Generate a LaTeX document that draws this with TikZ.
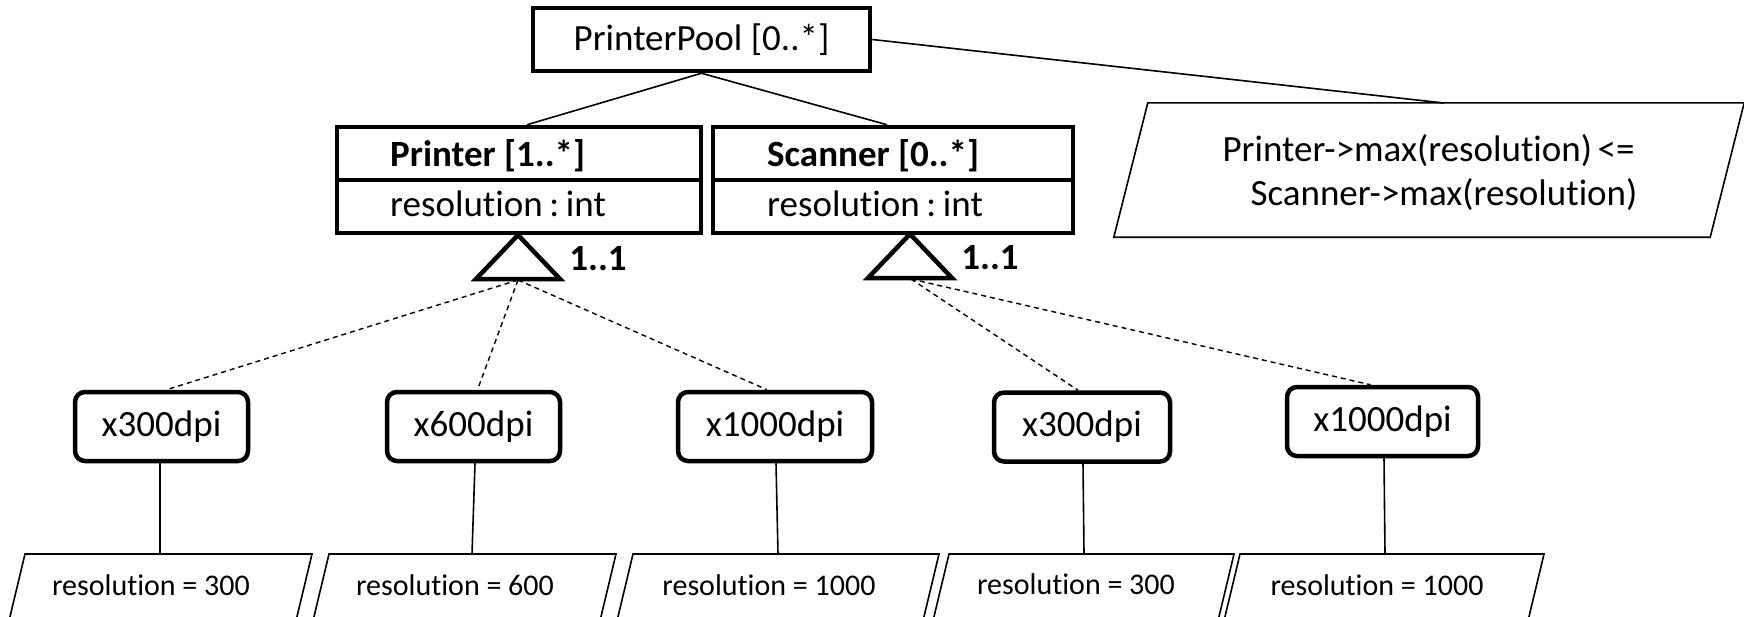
\documentclass[tikz,border=0pt]{standalone}
\usepackage{fontspec}
\setmainfont[Ligatures=NoCommon]{Carlito}
\begin{document}
\begin{tikzpicture}[x=1pt,y=-1pt,
  bold line/.style={line width=4.5pt},
  thin line/.style={line width=1.6pt},
  dash line/.style={line width=1.4pt, dash pattern=on 5pt off 4pt},
  big/.style={font=\fontsize{37}{44}\selectfont},
  bigbold/.style={font=\fontsize{37}{44}\selectfont\bfseries},
  small/.style={font=\fontsize{30}{36}\selectfont},
  classbox/.style={draw, bold line, rectangle, minimum height=106pt, inner sep=0pt},
  instbox/.style={draw, bold line, rounded corners=10pt, minimum height=69pt, inner sep=0pt, big},
  member/.style={anchor=west, inner sep=0pt},
  gen/.style={draw, bold line, fill=white, line join=miter}
]
\useasboundingbox (0,0) rectangle (1744,616);
\clip (0,0) rectangle (1744,616);

% root feature
\node[draw, bold line, minimum width=337pt, minimum height=63pt, inner sep=0pt, big] (pool) at (701.5,39.5) {PrinterPool [0..*]};

% class boxes with a name row and an attribute row
\node[classbox, minimum width=364pt] (printer) at (519,180) {};
\draw[bold line] (printer.west) -- (printer.east);
\node[member, bigbold] (printerName) at (390,156) {Printer [1..*]};
\node[member, big] (printerAttr) at (390,204) {resolution\hspace{0.18em}:\hspace{0.18em}int};

\node[classbox, minimum width=360pt] (scanner) at (893,180) {};
\draw[bold line] (scanner.west) -- (scanner.east);
\node[member, bigbold] (scannerName) at (767,156) {Scanner [0..*]};
\node[member, big] (scannerAttr) at (767,204) {resolution\hspace{0.18em}:\hspace{0.18em}int};

% constraint note
\node[inner sep=0pt, minimum width=596pt, minimum height=134pt] (constraint) at (1429,170) {};
\draw[thin line] ([xshift=17pt]constraint.north west) -- ([xshift=17pt]constraint.north east)
  -- ([xshift=-17pt]constraint.south east) -- ([xshift=-17pt]constraint.south west) -- cycle;
\node[big, align=left, inner sep=0pt] (constraintText) at (1430,173) {Printer->max(resolution)\hspace{0.15em}<=\\\hspace*{28pt}Scanner->max(resolution)};
\coordinate (constraintTop) at (1444,103);

% composition edges
\draw[thin line] (pool.south) -- ([xshift=8pt]printer.north);
\draw[thin line] (pool.south) -- ([xshift=-6pt]scanner.north);
\draw[thin line] (pool.east) -- (constraintTop);

% generalisation triangles
\draw[gen] (518,235) -- (560,279) -- (476,279) -- cycle;
\coordinate (printerGen) at (518,280);
\node[bigbold] (printerMult) at (598,259) {1..1};

\draw[gen] (910,234) -- (952,278) -- (868,278) -- cycle;
\coordinate (scannerGen) at (911,279);
\node[bigbold] (scannerMult) at (990,258) {1..1};

% instances
\node[instbox, minimum width=173pt] (i1) at (161.5,426.5) {x300dpi};
\node[instbox, minimum width=173pt] (i2) at (473.5,426.5) {x600dpi};
\node[instbox, minimum width=194pt] (i3) at (775,426.5) {x1000dpi};
\node[instbox, minimum width=176pt] (i4) at (1082,427) {x300dpi};
\node[instbox, minimum width=191pt] (i5) at (1382.5,421.5) {x1000dpi};

\draw[dash line] (printerGen) -- ([xshift=5pt]i1.north);
\draw[dash line] (printerGen) -- ([xshift=4pt]i2.north);
\draw[dash line] (printerGen) -- ([xshift=-8pt]i3.north);
\draw[dash line] (scannerGen) -- ([xshift=-4pt]i4.north);
\draw[dash line] (scannerGen) -- ([xshift=-12pt]i5.north);

% slot values
\draw[thin line] (25,554) -- (312,554) -- (289,650) -- (2,650) -- cycle;
\draw[thin line] (329,554) -- (616,554) -- (593,650) -- (306,650) -- cycle;
\draw[thin line] (633,554) -- (939,554) -- (916,650) -- (610,650) -- cycle;
\draw[thin line] (949,554) -- (1234,554) -- (1211,650) -- (926,650) -- cycle;
\draw[thin line] (1240,554) -- (1544,554) -- (1521,650) -- (1217,650) -- cycle;

\node[small] (s1) at (151,585) {resolution = 300};
\node[small] (s2) at (455,585) {resolution = 600};
\node[small] (s3) at (769,585) {resolution = 1000};
\node[small] (s4) at (1076,584) {resolution = 300};
\node[small] (s5) at (1377,585) {resolution = 1000};

\coordinate (s1top) at (160,554);
\coordinate (s2top) at (472,554);
\coordinate (s3top) at (778,554);
\coordinate (s4top) at (1084,554);
\coordinate (s5top) at (1385,554);

\draw[thin line] ([xshift=-1.5pt]i1.south) -- (s1top);
\draw[thin line] ([xshift=1.5pt]i2.south) -- (s2top);
\draw[thin line] ([xshift=1pt]i3.south) -- (s3top);
\draw[thin line] ([xshift=1pt]i4.south) -- (s4top);
\draw[thin line] ([xshift=1.5pt]i5.south) -- (s5top);
\end{tikzpicture}
\end{document}
